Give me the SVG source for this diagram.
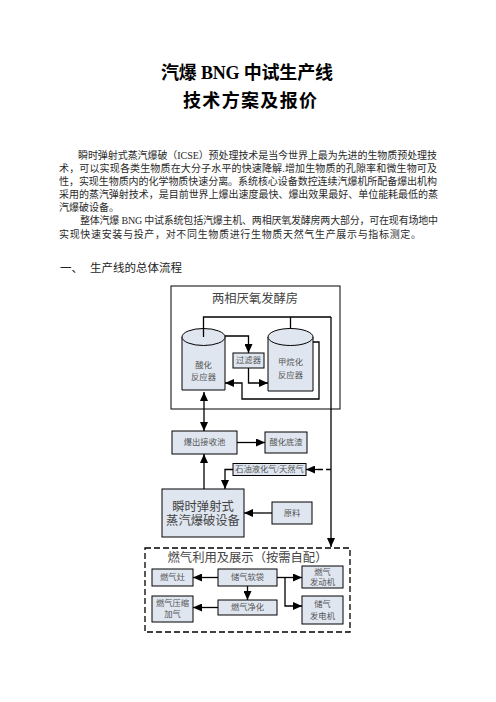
<svg xmlns="http://www.w3.org/2000/svg" width="496" height="702" viewBox="0 0 496 702">
<style>
.t{font-family:"Liberation Serif","Noto Sans CJK SC",serif;}
.title{font-size:18px;font-weight:bold;fill:#000;}
.body{font-size:10px;fill:#2a2a2a;}
.h{font-size:11.5px;fill:#222;}
.box{fill:#dfe6f0;stroke:#000;stroke-width:1;}
.frame{fill:#fff;stroke:#000;stroke-width:1;}
.nt{font-size:8.3px;fill:#555;text-anchor:middle;dominant-baseline:central;}
.big{font-size:12.3px;fill:#444;text-anchor:middle;dominant-baseline:central;}
.ln{fill:none;stroke:#000;stroke-width:1.3;}
.arr{marker-end:url(#ah);}
.dash{stroke-dasharray:5,3;}
</style>
<defs>
<marker id="ah" markerUnits="userSpaceOnUse" markerWidth="10" markerHeight="8" refX="9" refY="4" orient="auto-start-reverse" viewBox="0 0 10 8">
<path d="M0,0 L9,4 L0,8 Z" fill="#000"/>
</marker>
</defs>
<rect width="496" height="702" fill="#fff"/>
<g id="text">
<text class="t title" x="161" y="79" textLength="172" lengthAdjust="spacing">汽爆 BNG 中试生产线</text>
<text class="t title" x="183" y="106.5" textLength="134" lengthAdjust="spacing">技术方案及报价</text>
<text class="t body" x="78" y="158.5" textLength="359" lengthAdjust="spacing">瞬时弹射式蒸汽爆破（ICSE）预处理技术是当今世界上最为先进的生物质预处理技</text>
<text class="t body" x="59" y="171.5" textLength="378" lengthAdjust="spacing">术，可以实现各类生物质在大分子水平的快速降解.增加生物质的孔隙率和微生物可及</text>
<text class="t body" x="59" y="184.5" textLength="378" lengthAdjust="spacing">性，实现生物质内的化学物质快速分离。系统核心设备数控连续汽爆机所配备爆出机构</text>
<text class="t body" x="59" y="197.5" textLength="379" lengthAdjust="spacing">采用的蒸汽弹射技术，是目前世界上爆出速度最快、爆出效果最好、单位能耗最低的蒸</text>
<text class="t body" x="59" y="210.5">汽爆破设备。</text>
<text class="t body" x="80" y="224" textLength="358" lengthAdjust="spacing">整体汽爆 BNG 中试系统包括汽爆主机、两相厌氧发酵房两大部分，可在现有场地中</text>
<text class="t body" x="59" y="237.5" textLength="362" lengthAdjust="spacing">实现快速安装与投产，对不同生物质进行生物质天然气生产展示与指标测定。</text>
<text class="t h" x="60" y="271.5">一、</text>
<text class="t h" x="90" y="271.5" textLength="92" lengthAdjust="spacing">生产线的总体流程</text>
</g>
<g id="fermentation-room">
<rect class="frame" x="171" y="286" width="169" height="123"/>
<text class="t" x="255" y="299" font-size="12.3" fill="#444" text-anchor="middle" dominant-baseline="central">两相厌氧发酵房</text>
</g>
<g id="acid-reactor">
<path class="box" d="M182,337 V390 H225 V337"/>
<ellipse class="box" cx="203.5" cy="337" rx="21.5" ry="8.5"/>
<text class="t nt" x="203.5" y="365">酸化</text>
<text class="t nt" x="203.5" y="377">反应器</text>
</g>
<g id="filter">
<rect class="box" x="233" y="353" width="31" height="15"/>
<text class="t nt" x="248.5" y="360.5">过滤器</text>
</g>
<g id="methane-reactor">
<path class="box" d="M268,337 V391 H313 V337"/>
<ellipse class="box" cx="290.5" cy="337" rx="22.5" ry="8.5"/>
<text class="t nt" x="290.5" y="362">甲烷化</text>
<text class="t nt" x="290.5" y="375">反应器</text>
</g>
<g id="receiver">
<rect class="box" x="172" y="431" width="65" height="23"/>
<text class="t nt" x="204.5" y="442.5">爆出接收池</text>
</g>
<g id="residue">
<rect class="box" x="265" y="432" width="42" height="21"/>
<text class="t nt" x="286" y="442.5">酸化底渣</text>
</g>
<g id="gas-supply">
<rect class="box" x="233" y="463.5" width="73" height="12"/>
<text class="t nt" x="269.5" y="469.5">石油液化气/天然气</text>
</g>
<g id="steam-explosion">
<rect class="box" x="162" y="489" width="82" height="48" stroke-width="1.3"/>
<text class="t big" x="203" y="506.5">瞬时弹射式</text>
<text class="t big" x="203" y="521">蒸汽爆破设备</text>
</g>
<g id="raw-material">
<rect class="box" x="272" y="502" width="40" height="22"/>
<text class="t nt" x="292" y="513">原料</text>
</g>
<g id="gas-utilization">
<rect x="145" y="548" width="205" height="84" fill="#fff" stroke="#000" stroke-width="1.3" stroke-dasharray="6,3"/>
<text class="t" x="247.5" y="558" font-size="12.3" fill="#444" text-anchor="middle" dominant-baseline="central">燃气利用及展示（按需自配）</text>
</g>
<g id="stove">
<rect class="box" x="152" y="569" width="41" height="17"/>
<text class="t nt" x="172.5" y="577.5">燃气灶</text>
</g>
<g id="gas-bag">
<rect class="box" x="218" y="569" width="59" height="17"/>
<text class="t nt" x="247.5" y="577.5">储气软袋</text>
</g>
<g id="gas-engine">
<rect class="box" x="302" y="566" width="41" height="22"/>
<text class="t nt" x="322.5" y="572">燃气</text>
<text class="t nt" x="322.5" y="582">发动机</text>
</g>
<g id="compress">
<rect class="box" x="152" y="596" width="41" height="26"/>
<text class="t nt" x="172.5" y="603.5">燃气压缩</text>
<text class="t nt" x="172.5" y="614.5">加气</text>
</g>
<g id="purify">
<rect class="box" x="218" y="600" width="59" height="15"/>
<text class="t nt" x="247.5" y="607.5">燃气净化</text>
</g>
<g id="generator">
<rect class="box" x="302" y="596" width="41" height="28"/>
<text class="t nt" x="322.5" y="604">储气</text>
<text class="t nt" x="322.5" y="616">发电机</text>
</g>
<g id="connectors">
<path class="ln" d="M203.5,337 V317 H331"/>
<path class="ln" d="M290.5,328.5 V317"/>
<path class="ln arr" d="M331,317 V547"/>
<path class="ln arr" d="M225,336 H248.5 V353"/>
<path class="ln arr" d="M248.5,368 V383 H268"/>
<path class="ln arr" d="M313,342 H319 V399 H242 V383 H225"/>
<path class="ln arr" d="M204,392 V431" marker-start="url(#ah)"/>
<path class="ln arr" d="M237,442.5 H265"/>
<path class="ln dash" d="M331,469.5 H316"/>
<path class="ln arr" d="M318,469.5 H306"/>
<path class="ln arr" d="M233,469.5 H225 V489"/>
<path class="ln arr" d="M204,489 V454"/>
<path class="ln arr" d="M272,513 H244"/>
<path class="ln arr" d="M218,577.5 H193"/>
<path class="ln arr" d="M277,577.5 H302"/>
<path class="ln arr" d="M285,577.5 V606 H302"/>
<path class="ln arr" d="M247.5,586 V600"/>
<path class="ln arr" d="M218,607.5 H193"/>
</g>
</svg>
